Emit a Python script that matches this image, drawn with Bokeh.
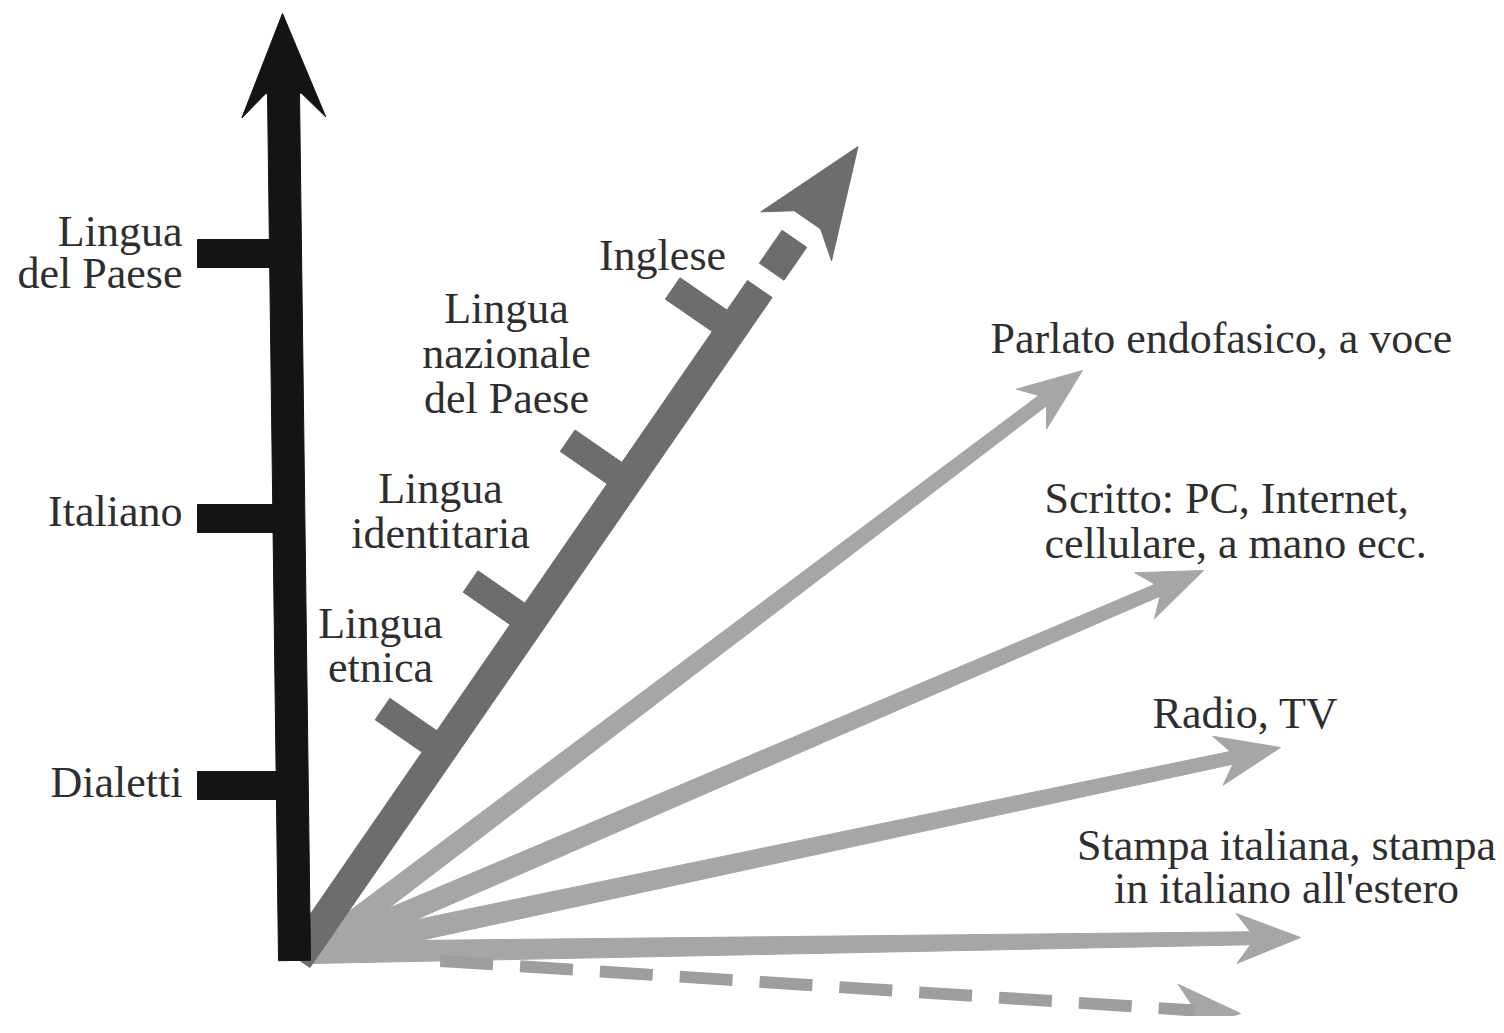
import math
from bokeh.plotting import figure
from bokeh.models import Range1d
from bokeh.embed import file_html
from bokeh.resources import INLINE
from bokeh.core.properties import value

PAGE_H = 1033

# ---------------- data ----------------
# Vertical axis: varieties of Italian
v_axis_base = (294, 960)
v_axis_tip = (282, 13)
v_tick_y = [253, 518, 785]
v_tick_left_x = 197
v_label_lines = [["Lingua", "del Paese"], ["Italiano"], ["Dialetti"]]
v_label_baselines = [[246, 288], [526], [797]]
v_label_right_x = 182

# Diagonal axis: languages of the host country
d_origin = (305, 947)
d_angle_deg = 55.4
d_tick_pos = [240, 395, 566, 751]
d_solid_end = 800
d_dash = (821, 861)
d_length = 973
d_label_lines = [["Lingua", "etnica"], ["Lingua", "identitaria"],
                 ["Lingua", "nazionale", "del Paese"], ["Inglese"]]
d_label_cx = [380, 440, 506, 662]
d_label_baselines = [[638, 682], [503, 548], [323, 368, 413], [270]]

# Rays: channels / media
r_origin = (312, 952)
r_tip_x = [1082, 1203, 1280, 1300, 1240]
r_tip_y = [370, 570, 747, 937, 1013]
r_dashed = [False, False, False, False, True]
r_label_lines = [["Parlato endofasico, a voce"],
                 ["Scritto: PC, Internet,", "cellulare, a mano ecc."],
                 ["Radio, TV"],
                 ["Stampa italiana, stampa", "in italiano all'estero"],
                 []]
r_label_x = [990, 1044, 1245, 1286, None]
r_label_align = ["left", "left", "center", "center", None]
r_label_baselines = [[353], [513, 558], [728], [860, 903], []]

BLACK = "#141414"
DARK = "#6d6d6d"
LIGHT = "#a6a6a6"
TEXT = "#2e2e2e"
FONT = "Liberation Serif"
FSIZE = "44px"
TEXT_DY = -15   # renderer baseline correction (page px)


def frame(origin, u):
    ox, oy = origin
    ux, uy = u
    nx, ny = -uy, ux

    def pt(t, s):
        return (ox + t * ux + s * nx, oy + t * uy + s * ny)
    return pt


def unit(a, b):
    dx, dy = b[0] - a[0], b[1] - a[1]
    L = math.hypot(dx, dy)
    return (dx / L, dy / L), L


polys = {BLACK: [], DARK: [], LIGHT: []}


def add_poly(color, pts):
    polys[color].append(([p[0] for p in pts], [PAGE_H - p[1] for p in pts]))


def add_head(color, pt, L, wing_back, wing_half, notch_back, notch_half):
    add_poly(color, [pt(L, 0), pt(L - wing_back, -wing_half),
                     pt(L - notch_back, -notch_half), pt(L - notch_back, notch_half),
                     pt(L - wing_back, wing_half)])


# light rays
dash_lines = []
for tx, ty, dashed in zip(r_tip_x, r_tip_y, r_dashed):
    u, L = unit(r_origin, (tx, ty))
    pt = frame(r_origin, u)
    nb = 50
    if dashed:
        a = pt(128, 0)
        b = pt(L - nb + 4, 0)
        dash_lines.append(([a[0], b[0]], [PAGE_H - a[1], PAGE_H - b[1]]))
    else:
        add_poly(LIGHT, [pt(0, -11), pt(L - nb + 2, -6.5), pt(L - nb + 2, 6.5), pt(0, 11)])
    add_head(LIGHT, pt, L, 64, 25, nb, 6.5)

# dark diagonal axis
ang = math.radians(d_angle_deg)
du = (math.cos(ang), -math.sin(ang))
dpt = frame(d_origin, du)
hw = 15
add_poly(DARK, [dpt(-14, -hw), dpt(d_solid_end, -hw), dpt(d_solid_end, hw), dpt(-14, hw)])
add_poly(DARK, [dpt(d_dash[0], -hw), dpt(d_dash[1], -hw), dpt(d_dash[1], hw), dpt(d_dash[0], hw)])
add_head(DARK, dpt, d_length, 109, 43, 89, 16)
for t in d_tick_pos:
    add_poly(DARK, [dpt(t - 13, 0), dpt(t + 13, 0), dpt(t + 13, -72), dpt(t - 13, -72)])

# black vertical axis
bu, bL = unit(v_axis_base, v_axis_tip)
bpt = frame(v_axis_base, bu)
add_poly(BLACK, [bpt(0, -16), bpt(bL - 78, -16), bpt(bL - 78, 16), bpt(0, 16)])
add_head(BLACK, bpt, bL, 104, 42, 80, 18)
for y in v_tick_y:
    t = v_axis_base[1] - y
    cx = bpt(t, 0)[0]
    add_poly(BLACK, [(v_tick_left_x, y - 14), (cx, y - 14), (cx, y + 14), (v_tick_left_x, y + 14)])

# ---------------- figure ----------------
p = figure(width=1504, height=1016, x_range=Range1d(0, 1504), y_range=Range1d(PAGE_H - 1016, PAGE_H),
           output_backend="svg", toolbar_location=None, min_border=0)
p.axis.visible = False
p.grid.visible = False
p.outline_line_color = None
p.background_fill_color = "white"
p.border_fill_color = "white"

for color in [LIGHT, DARK, BLACK]:
    if color == DARK:
        for xs, ys in dash_lines:
            p.line(xs, ys, line_color="#9e9e9e", line_width=12, line_dash="53 27")
    xs = [a for a, b in polys[color]]
    ys = [b for a, b in polys[color]]
    p.patches(xs, ys, fill_color=color, line_color=color, line_width=1)


def put_text(xs, ys, texts, align):
    if not texts:
        return
    p.text(x=xs, y=[PAGE_H - (y + TEXT_DY) for y in ys], text=texts, text_font=value(FONT),
           text_font_size=FSIZE, text_color=TEXT, text_align=align,
           text_baseline="alphabetic")


# vertical axis labels
tx, ty, tt = [], [], []
for lines, bls in zip(v_label_lines, v_label_baselines):
    for line, bl in zip(lines, bls):
        tx.append(v_label_right_x); ty.append(bl); tt.append(line)
put_text(tx, ty, tt, "right")

# diagonal labels
tx, ty, tt = [], [], []
for lines, cx, bls in zip(d_label_lines, d_label_cx, d_label_baselines):
    for line, bl in zip(lines, bls):
        tx.append(cx); ty.append(bl); tt.append(line)
put_text(tx, ty, tt, "center")

# ray labels
for align in ["left", "center"]:
    tx, ty, tt = [], [], []
    for lines, x, al, bls in zip(r_label_lines, r_label_x, r_label_align, r_label_baselines):
        if al != align:
            continue
        for line, bl in zip(lines, bls):
            tx.append(x); ty.append(bl); tt.append(line)
    put_text(tx, ty, tt, align)

open("out.html", "w").write(file_html(p, INLINE))
